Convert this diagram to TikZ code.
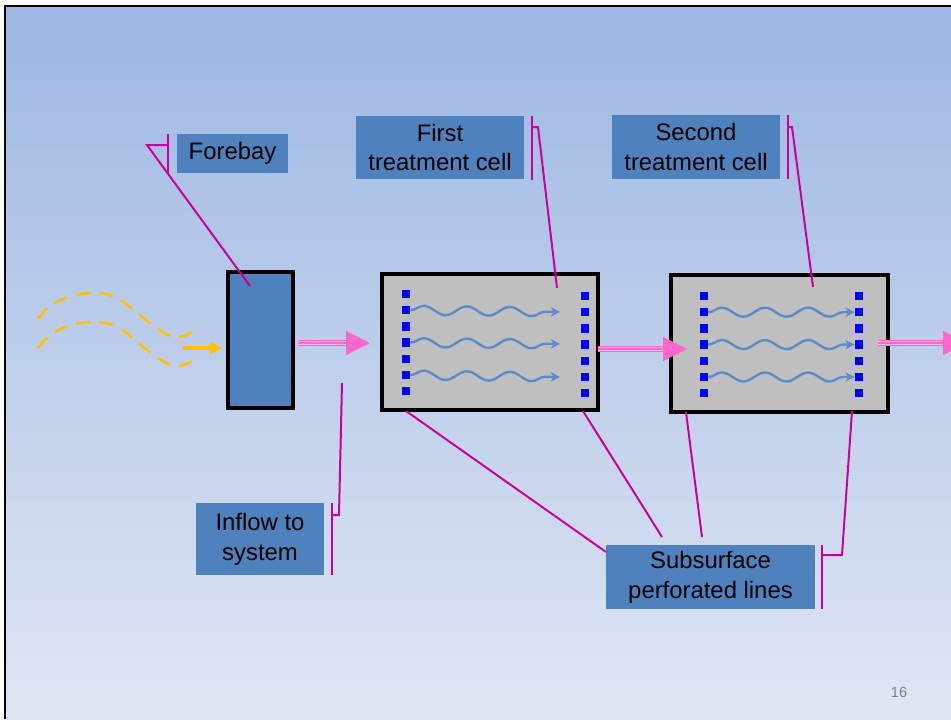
\documentclass[tikz,border=0pt]{standalone}
\usepackage{fontspec}
\setmainfont{Liberation Sans}
\usetikzlibrary{arrows.meta,decorations.pathmorphing,fit,positioning}
\definecolor{bgtop}{HTML}{9CB7E3}
\definecolor{bgbot}{HTML}{E0E6F3}
\definecolor{boxblue}{HTML}{4F81BD}
\definecolor{wavblue}{HTML}{5B8BC8}
\definecolor{callout}{HTML}{CC0099}
\definecolor{hotpink}{HTML}{FF66CC}
\definecolor{pinklight}{HTML}{FFB8E8}
\definecolor{cellgray}{HTML}{BFBFBF}
\definecolor{flowyellow}{HTML}{FFC000}
\definecolor{dotblue}{HTML}{0000FF}
\tikzset{
	lbl/.style={fill=boxblue, inner sep=0pt, align=center, font=\fontsize{18}{22.5}\selectfont},
	bar/.style={draw=callout, line width=2.2pt},
	leader/.style={draw=callout, line width=1.5pt},
	tank/.style={draw=black, line width=2.5pt, inner sep=0pt},
	perf/.style={fill=dotblue, inner sep=0pt, minimum size=6.2pt},
	seep/.style={draw=wavblue, line width=1.8pt, -{Stealth[length=7pt,width=7pt]}, decorate, decoration={snake, amplitude=3.4pt, segment length=32.5pt, post length=4pt}},
	shaft/.style={draw=hotpink, line width=0.9pt, double=pinklight, double distance=3pt},
	pinkhead/.style={draw=hotpink, line width=0.9pt, -{Triangle[length=18pt,width=18pt]}},
	runoff/.style={draw=flowyellow, line width=1.9pt, dash pattern=on 10.5pt off 7pt}
}
\begin{document}
\begin{tikzpicture}[x=0.0265cm, y=-0.0265cm]
		\useasboundingbox (0,0) rectangle (951,719);
		\clip (0,0) rectangle (951,719);
		% slide background
		\fill[white] (0,0) rectangle (951,719);
		\shade[top color=bgtop, bottom color=bgbot] (5,6) rectangle (951,719);
		\draw[line width=1.5pt] (5,719) -- (5,6) -- (951,6);
		% forebay and the two cells
		\node [tank, fill=boxblue, fit={(228,272) (293,408)}](forebay) {};
		\node [tank, fill=cellgray, fit={(382,274) (598,410)}](cell1) {};
		\node [tank, fill=cellgray, fit={(671,275) (888,412)}](cell2) {};
		% perforated lines
		\foreach \k in {0,...,6} {
			\node [perf](d1l\k) at (406,{294+16.2*\k}) {};
			\node [perf](d1r\k) at (585,{296+16.2*\k}) {};
			\node [perf](d2l\k) at (704,{296+16.2*\k}) {};
			\node [perf](d2r\k) at (859,{296+16.2*\k}) {};
		}
		% seepage through the cells
		\coordinate (e1a) at (560,312);
		\coordinate (e1b) at (560,344);
		\coordinate (e1c) at (560,377);
		\draw [seep] (d1l1.east) -- (e1a);
		\draw [seep] (d1l3.east) -- (e1b);
		\draw [seep] (d1l5.east) -- (e1c);
		\draw [seep] (d2l1.east) -- (d2r1.west);
		\draw [seep] (d2l3.east) -- (d2r3.west);
		\draw [seep] (d2l5.east) -- (d2r5.west);
		% runoff coming in
		\draw [runoff] (38,319) .. controls (52,298) and (78,292) .. (100,293) .. controls (125,295) and (140,320) .. (168,335) .. controls (180,341) and (190,333) .. (198,328);
		\draw [runoff] (38,348) .. controls (52,327) and (78,321) .. (100,322) .. controls (125,324) and (140,349) .. (168,364) .. controls (180,370) and (190,362) .. (198,357);
		\coordinate (in_start) at (183,348);
		\coordinate (in_tip) at (222,348);
		\draw [flowyellow, line width=2.6pt, -{Triangle[length=9pt,width=9pt]}] (in_start) -- (in_tip);
		% pink flow arrows
		\coordinate (s1) at (298,343);
		\coordinate (b1) at (347,343);
		\coordinate (t1) at (370,343);
		\coordinate (s2) at (598,349);
		\coordinate (b2) at (664,349);
		\coordinate (t2) at (687,349);
		\coordinate (s3) at (878,343);
		\coordinate (b3) at (944,343);
		\coordinate (t3) at (967,343);
		\draw [shaft] (s1) -- (b1);
		\draw [pinkhead] (s1) -- (t1);
		\draw [shaft] (s2) -- (b2);
		\draw [pinkhead] (s2) -- (t2);
		\draw [shaft] (s3) -- (b3);
		\draw [pinkhead] (s3) -- (t3);
		% labels
		\node [lbl, minimum width=2.94cm, minimum height=1.03cm](fb_lbl) at (232.5,153.5) {Forebay};
		\node [lbl, minimum width=4.45cm, minimum height=1.67cm](c1_lbl) at (440,147.5) {First\\treatment cell};
		\node [lbl, minimum width=4.45cm, minimum height=1.70cm](c2_lbl) at (696,147) {Second\\treatment cell};
		\node [lbl, minimum width=3.39cm, minimum height=1.91cm](in_lbl) at (260,539) {Inflow to\\system};
		\node [lbl, minimum width=5.54cm, minimum height=1.70cm](ss_lbl) at (710.5,577) {Subsurface\\perforated lines};
		% callout bars
		\draw [bar] (168,134) -- (168,173);
		\draw [bar] (532,116) -- (532,180);
		\draw [bar] (788,115) -- (788,179);
		\draw [bar] (332,503) -- (332,575);
		\draw [bar] (822,545) -- (822,609);
		% callout leaders
		\coordinate (fb_bar) at (168,145);
		\coordinate (fb_knee) at (147,145);
		\coordinate (fb_tip) at (250,286);
		\draw [leader] (fb_bar) -- (fb_knee) -- (fb_tip);
		\coordinate (c1_bar) at (532,127);
		\coordinate (c1_knee) at (538,127);
		\coordinate (c1_tip) at (557,288);
		\draw [leader] (c1_bar) -- (c1_knee) -- (c1_tip);
		\coordinate (c2_bar) at (788,127);
		\coordinate (c2_knee) at (792,127);
		\coordinate (c2_tip) at (813,287);
		\draw [leader] (c2_bar) -- (c2_knee) -- (c2_tip);
		\coordinate (in_bar) at (332,515);
		\coordinate (in_knee) at (339,515);
		\coordinate (in_tip2) at (342,383);
		\draw [leader] (in_bar) -- (in_knee) -- (in_tip2);
		\coordinate (ss_bar) at (822,555);
		\coordinate (ss_knee) at (842,555);
		\coordinate (ss_tip) at (852,411);
		\draw [leader] (ss_bar) -- (ss_knee) -- (ss_tip);
		\coordinate (p1) at (406,411);
		\coordinate (q1) at (606,552);
		\coordinate (p2) at (583,411);
		\coordinate (q2) at (662,537);
		\coordinate (p3) at (686,412);
		\coordinate (q3) at (702,537);
		\draw [leader] (p1) -- (q1);
		\draw [leader] (p2) -- (q2);
		\draw [leader] (p3) -- (q3);
		% slide number
		\node [text=gray, font=\fontsize{11}{13}\selectfont](pagenum) at (899,692) {16};
\end{tikzpicture}
\end{document}
